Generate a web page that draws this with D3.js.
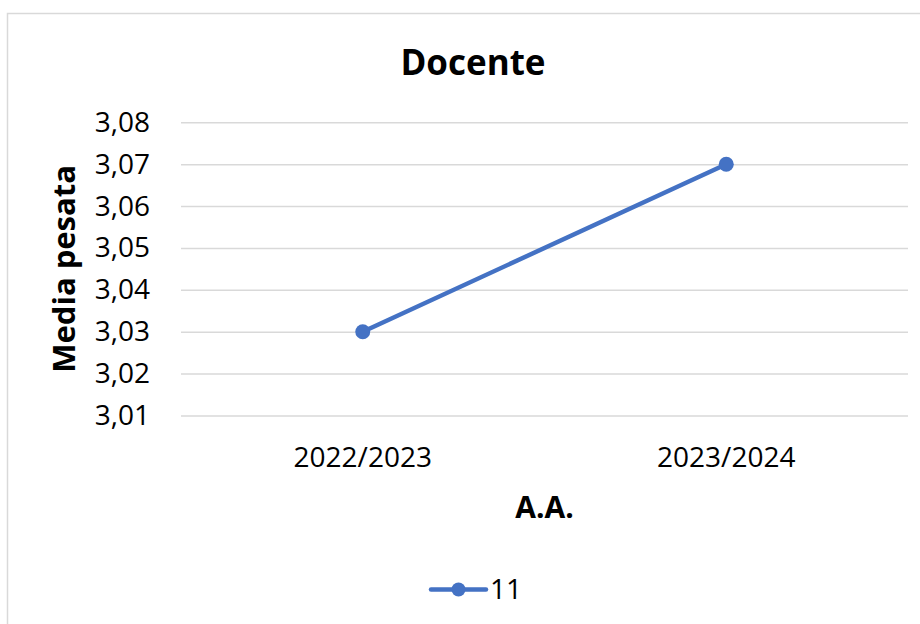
<!DOCTYPE html>
<html>
<head>
<meta charset="utf-8">
<script src="https://cdn.jsdelivr.net/npm/d3@7"></script>
<style>
  body { margin: 0; background: #fff; }
  text { font-family: "Open Sans", sans-serif; fill: #000; }
</style>
</head>
<body>
<div id="chart"></div>
<script>
// Data
const categories = ['2022/2023', '2023/2024']
const values = [3.03, 3.07]
const yTicks = [3.01, 3.02, 3.03, 3.04, 3.05, 3.06, 3.07, 3.08]
const seriesName = '11'

// Layout
const width = 920
const height = 624
const plot = { left: 181, right: 908, top: 122.3, bottom: 415.5 }
const lineColor = '#4472C4'
const gridColor = '#d9d9d9'

const svg = d3.select('#chart')
  .append('svg')
    .attr('width', width)
    .attr('height', height)

// Chart border
svg.append('rect')
  .attr('x', 7.5)
  .attr('y', 13.5)
  .attr('width', width)
  .attr('height', height)
  .attr('fill', 'none')
  .attr('stroke', gridColor)
  .attr('stroke-width', 1.5)

// Scales
const x = d3.scaleBand()
  .domain(categories)
  .range([plot.left, plot.right])

const y = d3.scaleLinear()
  .domain([3.01, 3.08])
  .range([plot.bottom, plot.top])

const fmt = d => d3.format('.2f')(d).replace('.', ',')

// Gridlines + y labels
const yAxis = svg.append('g')
  .attr('transform', `translate(${plot.left},0)`)
  .call(d3.axisLeft(y).tickValues(yTicks).tickFormat(fmt)
    .tickSize(-(plot.right - plot.left)).tickPadding(31))
yAxis.select('.domain').remove()
yAxis.selectAll('.tick line')
  .attr('stroke', gridColor)
  .attr('stroke-width', 1.5)
yAxis.selectAll('.tick text')
  .attr('font-size', 28)
  .attr('fill', '#000')
  .attr('font-family', '"Open Sans", sans-serif')

// X labels
const xAxis = svg.append('g')
  .attr('transform', `translate(0,${plot.bottom})`)
  .call(d3.axisBottom(x).tickSize(0).tickPadding(0))
xAxis.select('.domain').remove()
xAxis.selectAll('.tick text')
  .attr('dy', null)
  .attr('y', 51.5)
  .attr('font-size', 28)
  .attr('fill', '#000')
  .attr('font-family', '"Open Sans", sans-serif')

// Line
const line = d3.line()
  .x((d, i) => x(categories[i]) + x.bandwidth() / 2)
  .y(d => y(d))

svg.append('path')
  .datum(values)
  .attr('d', line)
  .attr('fill', 'none')
  .attr('stroke', lineColor)
  .attr('stroke-width', 4.5)
  .attr('stroke-linecap', 'round')

svg.selectAll('.dot')
  .data(values)
  .enter()
  .append('circle')
    .attr('class', 'dot')
    .attr('cx', (d, i) => x(categories[i]) + x.bandwidth() / 2)
    .attr('cy', d => y(d))
    .attr('r', 7.5)
    .attr('fill', lineColor)

// Title
svg.append('text')
  .attr('x', 473)
  .attr('y', 75)
  .attr('text-anchor', 'middle')
  .attr('font-size', 35)
  .attr('font-weight', 'bold')
  .text('Docente')

// Axis titles
svg.append('text')
  .attr('transform', `translate(75,${(plot.top + plot.bottom) / 2}) rotate(-90)`)
  .attr('text-anchor', 'middle')
  .attr('font-size', 31)
  .attr('font-weight', 'bold')
  .text('Media pesata')

svg.append('text')
  .attr('x', (plot.left + plot.right) / 2)
  .attr('y', 518)
  .attr('text-anchor', 'middle')
  .attr('font-size', 30)
  .attr('font-weight', 'bold')
  .text('A.A.')

// Legend
const legend = svg.append('g')
  .attr('transform', 'translate(431,589.5)')
legend.append('line')
  .attr('x1', 0)
  .attr('x2', 55)
  .attr('stroke', lineColor)
  .attr('stroke-width', 4.5)
  .attr('stroke-linecap', 'round')
legend.append('circle')
  .attr('cx', 27.5)
  .attr('r', 7)
  .attr('fill', lineColor)
legend.append('text')
  .attr('x', 59)
  .attr('y', 9)
  .attr('font-size', 28)
  .text(seriesName)
</script>
</body>
</html>
